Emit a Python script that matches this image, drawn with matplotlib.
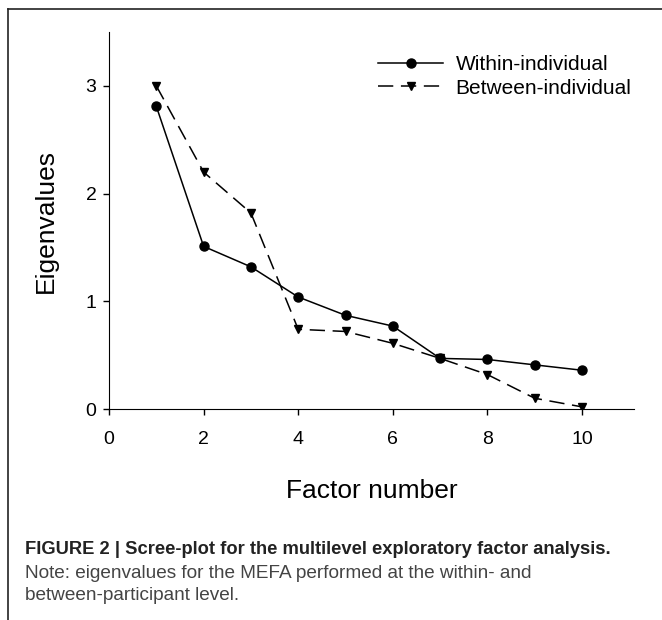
import matplotlib.pyplot as plt
from matplotlib.lines import Line2D

# data
factors = [1, 2, 3, 4, 5, 6, 7, 8, 9, 10]
within = [2.81, 1.51, 1.32, 1.04, 0.87, 0.77, 0.47, 0.46, 0.41, 0.36]
between = [3.00, 2.20, 1.82, 0.74, 0.72, 0.61, 0.47, 0.32, 0.10, 0.02]
x_ticks = [0, 2, 4, 6, 8, 10]
y_ticks = [0, 1, 2, 3]

plt.rcParams['font.family'] = ['Liberation Sans', 'DejaVu Sans']

fig = plt.figure(figsize=(6.62, 6.2), dpi=100)
ax = fig.add_axes([0.1647, 0.3403, 0.793, 0.608])

ax.plot(factors, within, color='black', lw=1.1, marker='o', ms=6.5,
        label='Within-individual')
ax.plot(factors, between, color='black', lw=1.1, marker='v', ms=5.5,
        dashes=(10, 5), label='Between-individual')

ax.set_xlim(0, 11.1)
ax.set_ylim(0, 3.5)
ax.set_xticks(x_ticks)
ax.set_yticks(y_ticks)
ax.spines['top'].set_visible(False)
ax.spines['right'].set_visible(False)
ax.tick_params(axis='both', direction='out', length=4, width=1, labelsize=14)
ax.tick_params(axis='x', pad=12)
ax.tick_params(axis='y', pad=5)

ax.set_xlabel('Factor number', fontsize=19, labelpad=22)
ax.set_ylabel('Eigenvalues', fontsize=19, labelpad=20)

ax.legend(loc='upper right', bbox_to_anchor=(1.011, 0.96), frameon=False,
          fontsize=15, handlelength=3.1, handletextpad=0.6, labelspacing=0.2,
          borderaxespad=0.0)

# frame lines of the figure panel
fig.add_artist(Line2D([8/662, 1], [1 - 9/620, 1 - 9/620], color='#222222', lw=1.2))
fig.add_artist(Line2D([8/662, 8/662], [0, 1 - 9/620], color='#222222', lw=1.2))

fig.text(25/662, 1 - 550/620,
         'FIGURE 2 | Scree-plot for the multilevel exploratory factor analysis.',
         weight='bold', fontsize=13.2, va='center', color='#222222')
fig.text(25/662, 1 - 573/620,
         'Note: eigenvalues for the MEFA performed at the within- and',
         fontsize=13.7, va='center', color='#444444')
fig.text(25/662, 1 - 596/620, 'between-participant level.',
         fontsize=13.7, va='center', color='#444444')

fig.savefig('out.png', dpi=100)
